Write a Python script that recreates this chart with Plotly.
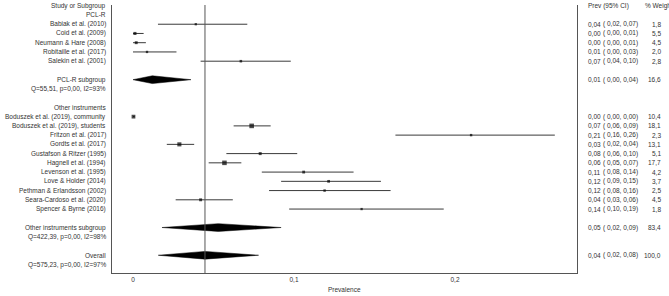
import plotly.graph_objects as go

# ---- data -------------------------------------------------------------
pcl_studies = ["Babiak et al. (2010)", "Coid et al. (2009)", "Neumann & Hare (2008)",
               "Robitaille et al. (2017)", "Salekin et al. (2001)"]
pcl_est = [0.039, 0.0012, 0.002, 0.0087, 0.067]
pcl_lo = [0.0155, 0.0, 0.0, 0.0, 0.042]
pcl_hi = [0.071, 0.0066, 0.008, 0.027, 0.098]
pcl_w = [1.8, 5.5, 4.5, 2.0, 2.8]

oth_studies = ["Boduszek et al. (2019), community", "Boduszek et al. (2019), students",
               "Fritzon et al. (2017)", "Gordts et al. (2017)", "Gustafson & Ritzer (1995)",
               "Hagnell et al. (1994)", "Levenson et al. (1995)", "Love & Holder (2014)",
               "Pethman & Erlandsson (2002)", "Seara-Cardoso et al. (2020)", "Spencer & Byrne (2016)"]
oth_est = [0.0003, 0.0737, 0.21, 0.0288, 0.079, 0.0568, 0.106, 0.1215, 0.119, 0.042, 0.142]
oth_lo = [0.0, 0.0625, 0.163, 0.021, 0.058, 0.047, 0.080, 0.092, 0.0845, 0.0265, 0.097]
oth_hi = [0.001, 0.0855, 0.262, 0.038, 0.102, 0.0673, 0.137, 0.154, 0.16, 0.062, 0.193]
oth_w = [10.4, 18.1, 2.3, 13.1, 5.1, 17.7, 4.2, 3.7, 2.5, 4.5, 1.8]

sub_names = ["PCL-R subgroup", "Other instruments subgroup", "Overall"]
sub_est = [0.012, 0.053, 0.0447]
sub_lo = [0.0, 0.018, 0.0157]
sub_hi = [0.036, 0.092, 0.078]
sub_w = [16.6, 83.4, 100.0]
sub_het = ["Q=55,51, p=0,00, I2=93%", "Q=422,39, p=0,00, I2=98%", "Q=575,23, p=0,00, I2=97%"]

tick_vals = [0, 0.1, 0.2]
tick_text = ["0", "0,1", "0,2"]

# ---- layout of rows ---------------------------------------------------
pcl_rows = [2, 3, 4, 5, 6]
oth_rows = list(range(12, 23))
sub_rows = [8, 24, 27]

FONT = "Liberation Sans, Arial, sans-serif"
FS = 6.5
TXT = "#333333"
W, H = 669, 296
L, R, T, B = 112, 92, 5, 23
pw = W - L - R


def px2paper(px):
    return (px - L) / pw


def fmt(v):
    return f"{v:.2f}".replace(".", ",")


fig = go.Figure()

# CI lines and points
all_est = pcl_est + oth_est
all_lo = pcl_lo + oth_lo
all_hi = pcl_hi + oth_hi
all_w = pcl_w + oth_w
all_rows = pcl_rows + oth_rows
for e, lo, hi, r in zip(all_est, all_lo, all_hi, all_rows):
    fig.add_trace(go.Scatter(x=[lo, hi], y=[r, r], mode="lines",
                             line=dict(color="#3a3a3a", width=1), hoverinfo="skip",
                             showlegend=False))
fig.add_trace(go.Scatter(x=all_est, y=all_rows, mode="markers",
                         marker=dict(symbol="square", color="black",
                                     size=[1.2 + 0.8 * w ** 0.5 for w in all_w],
                                     line=dict(width=0)),
                         showlegend=False))

# diamonds
hh = 0.42
for e, lo, hi, r in zip(sub_est, sub_lo, sub_hi, sub_rows):
    fig.add_trace(go.Scatter(x=[lo, e, hi, e, lo], y=[r, r - hh, r, r + hh, r],
                             mode="lines", fill="toself", fillcolor="black",
                             line=dict(color="black", width=0.5), showlegend=False,
                             hoverinfo="skip"))

# vertical reference line at overall estimate
fig.add_shape(type="line", x0=sub_est[2], x1=sub_est[2], y0=0, y1=1, yref="paper",
              line=dict(color="#555555", width=1))

ann = []


def txt(x, y, text, anchor, yref="y"):
    ann.append(dict(x=x, y=y, xref="paper", yref=yref, text=text,
                    showarrow=False, xanchor=anchor, yanchor="middle",
                    font=dict(family=FONT, size=FS, color=TXT)))


def left(row, text):
    txt(px2paper(108), row, text, "right")


def rightcols(row, est, lo, hi, w):
    txt(px2paper(586), row, fmt(est), "left")
    txt(px2paper(601), row, f"( {fmt(lo)}, {fmt(hi)})", "left")
    txt(px2paper(663), row, f"{w:.1f}".replace(".", ","), "right")


left(0, "Study or Subgroup")
left(1, "PCL-R")
left(11, "Other instruments")
for name, r in zip(pcl_studies + oth_studies, all_rows):
    left(r, name)
for name, het, r in zip(sub_names, sub_het, sub_rows):
    left(r, name)
    left(r + 1, het)
for e, lo, hi, w, r in zip(all_est, all_lo, all_hi, all_w, all_rows):
    rightcols(r, e, lo, hi, w)
for e, lo, hi, w, r in zip(sub_est, sub_lo, sub_hi, sub_w, sub_rows):
    rightcols(r, e, lo, hi, w)

# headers on the right
txt(px2paper(586), 0, "Prev (95% CI)", "left")
txt(px2paper(643), 0, "% Weight", "left")
# axis title
txt(0.5, (H - B - 289) / (H - T - B), "Prevalence", "center", yref="paper")

x0 = (112 - 133) / 1610
x1 = (577 - 133) / 1610
fig.update_layout(
    width=W, height=H, margin=dict(l=L, r=R, t=T, b=B),
    paper_bgcolor="white", plot_bgcolor="white",
    separators=",.",
    annotations=ann,
    xaxis=dict(range=[x0, x1], showgrid=False, zeroline=False, showline=True,
               linecolor="#555555", linewidth=1, tickvals=tick_vals, ticktext=tick_text,
               ticks="", tickfont=dict(family=FONT, size=FS, color=TXT)),
    yaxis=dict(range=[28.92, -0.08], showgrid=False, zeroline=False, showline=True,
               mirror=True, linecolor="#555555", linewidth=1, showticklabels=False,
               ticks=""),
)

fig.write_html("out.html", config={"displayModeBar": False},
               post_script="document.body.style.margin='0';")
